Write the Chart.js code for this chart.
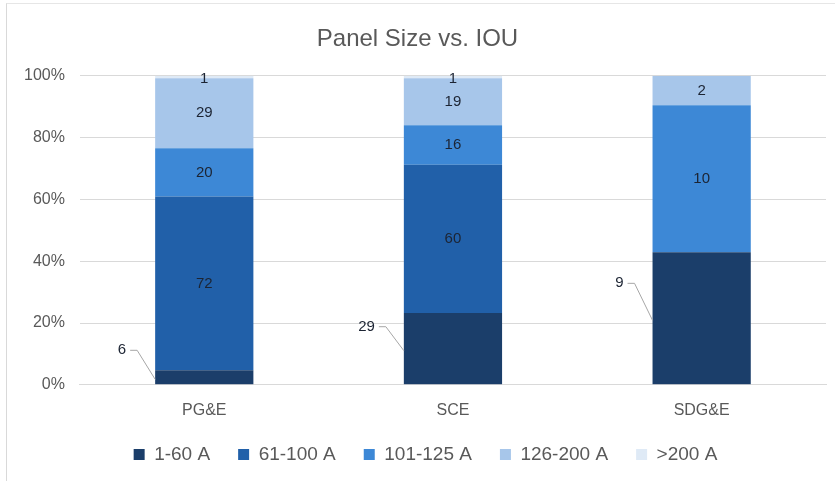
<!DOCTYPE html>
<html>
<head>
<meta charset="utf-8">
<script src="https://cdn.jsdelivr.net/npm/chart.js@4.4.1/dist/chart.umd.min.js"></script>
<style>
  html, body { margin: 0; padding: 0; background: #fff; }
  #marco { position: absolute; left: 6px; top: 3px; width: 829px; height: 478px; border-left: 1px solid #d9d9d9; border-top: 1px solid #e6e6e6; box-sizing: border-box; }
  #grafica { position: absolute; left: 0; top: 0; }
</style>
</head>
<body>
<div id="marco"><canvas id="grafica" width="828" height="477"></canvas></div>
<script>
// datos (conteos por IOU)
var categorias = ["PG&E", "SCE", "SDG&E"];
var series = ["1-60 A", "61-100 A", "101-125 A", "126-200 A", ">200 A"];
var v_1_60 = [6, 29, 9];
var v_61_100 = [72, 60, 0];
var v_101_125 = [20, 16, 10];
var v_126_200 = [29, 19, 2];
var v_200 = [1, 1, 0];
var ticksY = ["0%", "20%", "40%", "60%", "80%", "100%"];

var colores = ["#1b3e6a", "#2160a9", "#3d88d6", "#a7c6ea", "#dfeaf6"];
var fuente = "'Liberation Sans', Arial, sans-serif";

var conteos = [v_1_60, v_61_100, v_101_125, v_126_200, v_200];
var totales = categorias.map(function (c, i) {
    var t = 0;
    for (var s = 0; s < conteos.length; s++) t += conteos[s][i];
    return t;
});

var dataset = [];
for (var s = 0; s < series.length; s++) {
    dataset.push({
        label: series[s],
        data: conteos[s].map(function (v, i) { return v / totales[i]; }),
        raw: conteos[s],
        backgroundColor: colores[s],
        borderWidth: 0,
        barPercentage: 0.395,
        categoryPercentage: 1.0
    });
}

// desplazamiento vertical de las etiquetas con linea guia (serie 1-60 A)
var subir = [27, 22, 35];
// espacio que se le quita a la leyenda por arriba
var RECORTE = 11;
// corrimiento horizontal de la leyenda
var LEYENDA_DX = 8;

// etiquetas de datos (sin plugin externo)
var etiquetas = {
    id: "etiquetas",
    beforeLayout: function (chart) {
        var lg = chart.legend;
        if (lg && !lg._parcheado) {
            var fitOrig = lg.fit;
            lg.fit = function () {
                fitOrig.call(this);
                this.height -= RECORTE;
            };
            lg._parcheado = true;
        }
    },
    afterLayout: function (chart) {
        chart.legend.top -= RECORTE;
        chart.legend.bottom -= RECORTE;
        chart.legend.left += LEYENDA_DX;
        chart.legend.right += LEYENDA_DX;
    },
    afterDatasetsDraw: function (chart) {
        var ctx = chart.ctx;
        ctx.save();
        ctx.font = "15px " + fuente;
        ctx.fillStyle = "#1c2433";
        ctx.textBaseline = "middle";
        chart.data.datasets.forEach(function (ds, d) {
            var meta = chart.getDatasetMeta(d);
            meta.data.forEach(function (bar, i) {
                var v = ds.raw[i];
                if (!v) return;
                var top = Math.min(bar.y, bar.base);
                var bot = Math.max(bar.y, bar.base);
                var mid = (top + bot) / 2;
                var left = bar.x - bar.width / 2;
                if (d === 0) {
                    var lx = left - 29, ly = mid - subir[i];
                    ctx.textAlign = "right";
                    ctx.fillText(String(v), lx, ly);
                    ctx.strokeStyle = "#a6a6a6";
                    ctx.lineWidth = 1;
                    ctx.beginPath();
                    ctx.moveTo(lx + 4, ly);
                    ctx.lineTo(lx + 11, ly);
                    ctx.lineTo(left, mid + 2);
                    ctx.stroke();
                } else {
                    ctx.textAlign = "center";
                    var y = mid;
                    if (d === 4) y = top + 3;
                    ctx.fillText(String(v), bar.x, y);
                }
            });
        });
        ctx.restore();
    }
};

var grafica = new Chart(document.getElementById("grafica"), {
    type: "bar",
    data: { labels: categorias, datasets: dataset },
    plugins: [etiquetas],
    options: {
        responsive: false,
        animation: false,
        layout: { padding: { left: 2, right: 9, top: 8, bottom: 7 } },
        plugins: {
            tooltip: { enabled: false },
            title: {
                display: true,
                text: "Panel Size vs. IOU",
                color: "#595959",
                font: { size: 24, family: fuente, weight: "normal" },
                padding: { top: 13, bottom: 22 }
            },
            legend: {
                position: "bottom",
                labels: {
                    color: "#595959",
                    font: { size: 19, family: fuente },
                    boxWidth: 11,
                    boxHeight: 11,
                    padding: 28
                }
            }
        },
        scales: {
            x: {
                stacked: true,
                grid: { display: false },
                border: { color: "#d9d9d9" },
                ticks: { color: "#595959", font: { size: 16, family: fuente }, padding: 8 }
            },
            y: {
                stacked: true,
                min: 0,
                max: 1,
                border: { display: false },
                grid: { color: "#d9d9d9", drawTicks: false },
                ticks: {
                    stepSize: 0.2,
                    padding: 15,
                    color: "#595959",
                    font: { size: 16, family: fuente },
                    callback: function (val) { return ticksY[Math.round(val * 5)]; }
                }
            }
        }
    }
});
</script>
</body>
</html>
